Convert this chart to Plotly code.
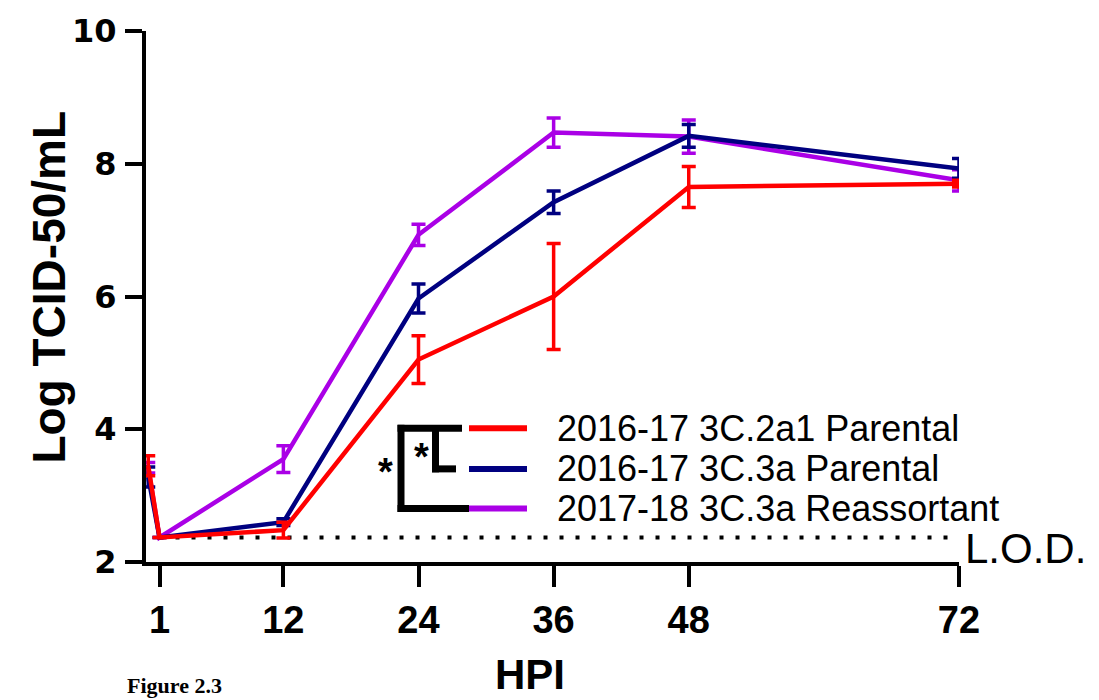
import plotly.graph_objects as go

# ---------------- data ----------------
hpi = [0, 1, 12, 24, 36, 48, 72]
series_names = ["2016-17 3C.2a1 Parental", "2016-17 3C.3a Parental", "2017-18 3C.3a Reassortant"]
red_mean = [3.45, 2.37, 2.48, 5.05, 6.0, 7.65, 7.7]
red_err = [0.15, 0.0, 0.12, 0.36, 0.8, 0.31, 0.05]
blue_mean = [3.28, 2.37, 2.6, 5.97, 7.42, 8.42, 7.93]
blue_err = [0.15, 0.0, 0.05, 0.22, 0.17, 0.17, 0.15]
purple_mean = [3.42, 2.37, 3.55, 6.93, 8.47, 8.41, 7.75]
purple_err = [0.08, 0.0, 0.2, 0.16, 0.22, 0.25, 0.16]
x_ticks = [1, 12, 24, 36, 48, 72]
y_ticks = [2, 4, 6, 8, 10]
lod_value = 2.37
lod_x = [1, 72]

RED = "#FF0000"
NAVY = "#000080"
PURPLE = "#AA00E6"

# plot area in pixels
L, R, T, B = 146, 959, 26, 562
W, H = 1099, 700


def px(xp):
    return (xp - L) / (R - L)


def py(yp):
    return (B - yp) / (B - T)


fig = go.Figure()

# LOD dotted line
fig.add_trace(go.Scatter(x=lod_x, y=[lod_value, lod_value], mode="lines",
                         line=dict(color="black", width=4, dash="4px,12px"),
                         showlegend=False, hoverinfo="skip"))

for mean, err, col, name in [(purple_mean, purple_err, PURPLE, series_names[2]),
                             (blue_mean, blue_err, NAVY, series_names[1]),
                             (red_mean, red_err, RED, series_names[0])]:
    fig.add_trace(go.Scatter(
        x=hpi, y=mean, mode="lines", name=name,
        line=dict(color=col, width=4.5),
        error_y=dict(type="data", array=err, visible=True, color=col,
                     thickness=3.5, width=7),
        cliponaxis=False, showlegend=False))

shapes = []
annotations = []

# manual legend
leg_rows = [427, 468, 508]
leg_cols = [RED, NAVY, PURPLE]
for yy, col, name in zip(leg_rows, leg_cols, series_names):
    shapes.append(dict(type="line", xref="paper", yref="paper",
                       x0=px(469), x1=px(527), y0=py(yy), y1=py(yy),
                       line=dict(color=col, width=6)))
    annotations.append(dict(xref="paper", yref="paper", x=px(555), y=py(yy),
                            text=name, showarrow=False, xanchor="left", yanchor="middle",
                            font=dict(family="Liberation Sans", size=36, color="black")))

# significance brackets
blk = dict(color="black", width=7)
for (x0, y0, x1, y1) in [(401, 423.5, 401, 511.5), (397.5, 427, 462, 427), (397.5, 508, 469, 508),
                         (435.5, 427, 435.5, 471.5), (432, 468, 456, 468)]:
    shapes.append(dict(type="line", xref="paper", yref="paper",
                       x0=px(x0), x1=px(x1), y0=py(y0), y1=py(y1), line=blk))
annotations.append(dict(xref="paper", yref="paper", x=px(376), y=py(494), text="<b>*</b>",
                        showarrow=False, font=dict(family="Liberation Sans", size=38, color="black")))
annotations.append(dict(xref="paper", yref="paper", x=px(421), y=py(479), text="<b>*</b>",
                        showarrow=False, font=dict(family="Liberation Sans", size=38, color="black")))

# L.O.D. label
annotations.append(dict(xref="paper", yref="paper", x=px(963), y=py(548), text="L.O.D.",
                        showarrow=False, xanchor="left", yanchor="middle",
                        font=dict(family="Liberation Sans", size=42, color="black")))

# axis titles
annotations.append(dict(xref="paper", yref="paper", x=px(49), y=py(285), text="<b>Log TCID-50/mL</b>",
                        showarrow=False, textangle=-90, xanchor="center", yanchor="middle",
                        font=dict(family="Liberation Sans", size=46, color="black")))
annotations.append(dict(xref="paper", yref="paper", x=px(530), y=py(676), text="<b>HPI</b>",
                        showarrow=False, xanchor="center", yanchor="middle",
                        font=dict(family="Liberation Sans", size=42, color="black")))
annotations.append(dict(xref="paper", yref="paper", x=px(125), y=py(687), text="<b>Figure 2.3</b>",
                        showarrow=False, xanchor="left", yanchor="middle",
                        font=dict(family="Liberation Serif", size=22, color="black")))

fig.update_layout(
    width=W, height=H,
    margin=dict(l=L, r=W - R, t=T, b=H - B, pad=0),
    plot_bgcolor="white", paper_bgcolor="white",
    shapes=shapes, annotations=annotations,
    xaxis=dict(range=[-0.2, 72], tickvals=x_ticks, ticktext=[str(v) for v in x_ticks],
               showline=True, linecolor="black", linewidth=4, ticks="outside",
               ticklen=21, tickwidth=3.5, tickcolor="black", showgrid=False, zeroline=False,
               ticklabelstandoff=0,
               tickfont=dict(family="Liberation Sans", size=38, color="black", weight="bold")),
    yaxis=dict(range=[2, 10], tickvals=y_ticks, showline=True, linecolor="black", linewidth=4,
               ticks="outside", ticklen=17, tickwidth=3.5, tickcolor="black", showgrid=False,
               zeroline=False, ticklabelstandoff=2,
               tickfont=dict(family="DejaVu Sans", size=32, color="black", weight="bold")),
)

fig.write_html("out.html")
